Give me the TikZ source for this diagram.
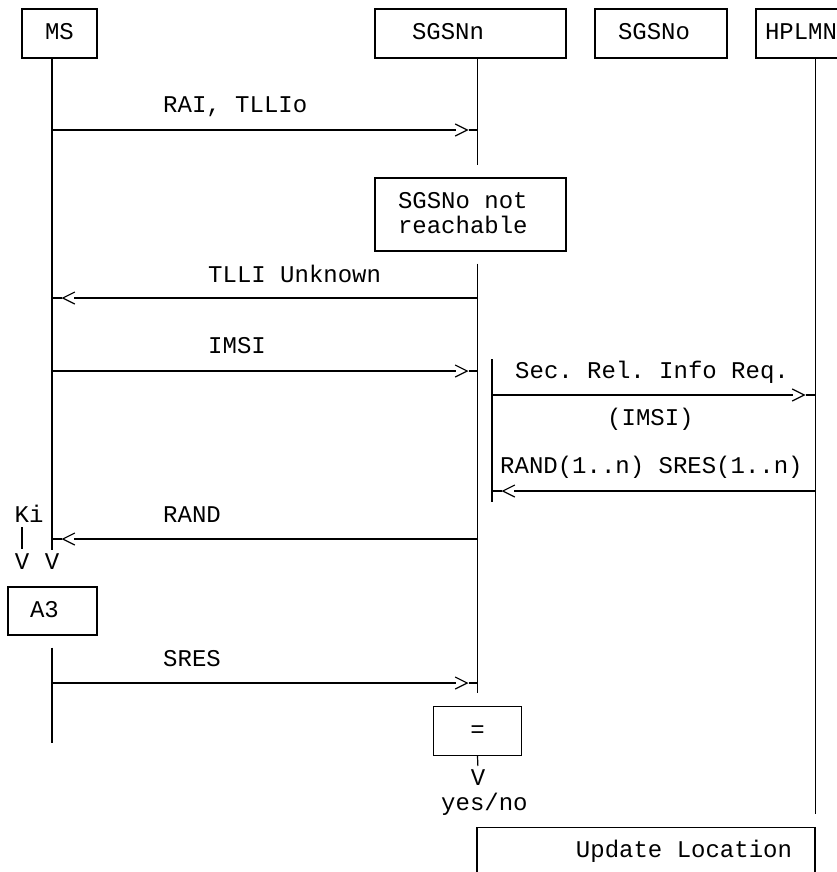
\documentclass[tikz,border=0pt]{standalone}
\usepackage{fontspec}
\setmonofont{Liberation Mono}
\usepackage{tikz}
\usetikzlibrary{arrows.meta,decorations.markings}
\newcommand{\msgfont}{\ttfamily\fontsize{24}{25}\selectfont\frenchspacing}
\tikzset{
  box/.style={
    draw, line width=1.2pt, font=\msgfont, align=left,
    inner ysep=0pt, text height=31pt, text depth=18pt,
    execute at begin node={\spaceskip=0pt\xspaceskip=0pt}
  },
  lbl/.style={
    font=\msgfont, inner sep=0pt, anchor=base west
  },
  life/.style={line width=1.2pt},
  msg/.style={
    line width=1.2pt, shorten >=22pt,
    postaction={decorate, decoration={markings,
      mark=at position -9.5pt with {
        \arrow{Straight Barb[length=12pt,width=12pt]};
        \draw[line width=1.2pt, shorten >=0pt] (0,0) -- (9.5pt,0);}}}
  },
}

\begin{document}
\begin{tikzpicture}[x=1pt, y=-1pt]
  \useasboundingbox (0,0) rectangle (837,872);
  \clip (0,0) rectangle (837,872);
  % boxes
  \node[box, minimum width=75pt] (ms) at (59.5,33.5) {MS};
  \node[box, text width=117pt, inner xsep=37pt] (sgsnn) at (470.5,33.5) {SGSNn};
  \node[box, text width=86pt, inner xsep=23pt] (sgsno) at (661,33.5) {SGSNo};
  \node[box, text width=72pt, inner xsep=9pt] (hplmn) at (801,33.5) {HPLMN};
  \node[box, text width=145pt, inner xsep=23pt, text height=30pt,
    text depth=43pt] (nr) at (470.5,214.5) {SGSNo not\\reachable};
  \node[box, text width=45pt, inner xsep=22pt, text height=30pt] (a3) at (52.5,611) {A3};
  \node[box, minimum width=88pt] (eq) at (477.5,731) {=};
  \node[box, anchor=north, text width=292pt, inner xsep=23pt, align=right,
    text height=30pt, text depth=60pt] (ul) at (646,827) {Update Location};
  % labels
  \node[lbl] (l1) at (163,113) {RAI, TLLIo};
  \node[lbl] (l2) at (208,282) {TLLI Unknown};
  \node[lbl] (l3) at (208,353) {IMSI};
  \node[lbl] (l4) at (515,378) {Sec. Rel. Info Req.};
  \node[lbl] (l5) at (607,425) {(IMSI)};
  \node[lbl] (l6) at (500,473) {RAND(1..n) SRES(1..n)};
  \node[lbl] (l7) at (163,522) {RAND};
  \node[lbl] (l8) at (163,666) {SRES};
  \node[lbl] (ki) at (14.5,522) {Ki};
  \node[lbl, anchor=base] (kiv) at (22,569) {V};
  \node[lbl, anchor=base] (msv) at (52,569) {V};
  \node[lbl, anchor=base] (eqv) at (478,785) {V};
  \node[lbl] (yn) at (441,810) {yes/no};
  % lifeline points
  \coordinate (msa) at (52,550);
  \coordinate (msb) at (52,743);
  \coordinate (sqa) at (492,359);
  \coordinate (sqb) at (492,502);
  \foreach \n/\y in {1/130, 2/298, 3/371, 4/539, 5/683}{
    \coordinate (ms\n) at (52,\y);
    \coordinate (sn\n) at (478,\y);
  }
  \coordinate (sq1) at (492,395);  \coordinate (hp1) at (815,395);
  \coordinate (sq2) at (492,491);  \coordinate (hp2) at (815,491);
  % lifelines
  \draw[life] (ms.south -| msa) -- (msa);
  \draw[life, shorten <=12pt] (a3.south -| msb) -- (msb);
  \draw[life, shorten >=12pt] (sgsnn.south -| eq) -- (nr.north -| eq);
  \draw[life, shorten <=12pt, shorten >=13pt] (nr.south -| eq) -- (eq.north);
  \draw[life, shorten >=3pt] (eq.south) -- (eqv.north);
  \draw[life] (sqa) -- (sqb);
  \draw[life, shorten >=13pt] (hplmn.south -| ul.east) -- (ul.north east);
  \draw[life, shorten <=5pt, shorten >=4pt] (kiv.north |- ki.south) -- (kiv.north);
  % messages
  \draw[msg] (ms1) -- (sn1);
  \draw[msg] (sn2) -- (ms2);
  \draw[msg] (ms3) -- (sn3);
  \draw[msg] (sq1) -- (hp1);
  \draw[msg] (hp2) -- (sq2);
  \draw[msg] (sn4) -- (ms4);
  \draw[msg] (ms5) -- (sn5);
\end{tikzpicture}
\end{document}
